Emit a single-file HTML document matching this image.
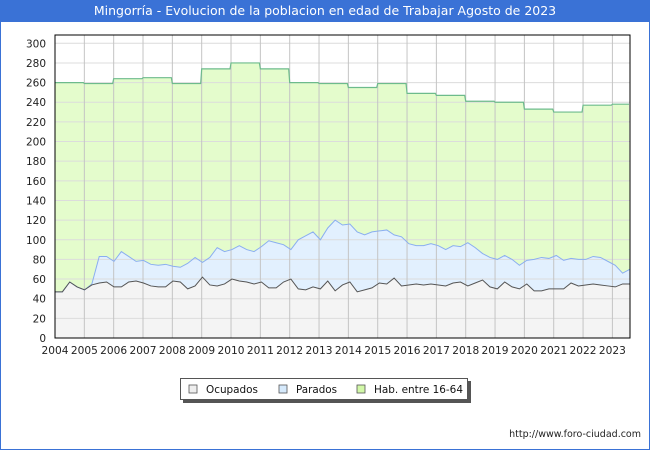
<!DOCTYPE html>
<html><head><meta charset="utf-8"><style>
body{margin:0;width:650px;height:450px;overflow:hidden;background:#fff;font-family:"DejaVu Sans","Liberation Sans",sans-serif}
#frame{position:absolute;left:0;top:0;width:648px;height:448px;border:1px solid #3a72d6}
#title{position:absolute;left:0;top:0;width:650px;height:22px;background:#3a72d6;color:#fff;font-size:12.5px;text-align:center;line-height:22px}
svg{position:absolute;left:0;top:0}
</style></head><body>
<div id="frame"></div>
<div id="title">Mingorría - Evolucion de la poblacion en edad de Trabajar Agosto de 2023</div>
<svg id="c" width="650" height="450"></svg>
<script>
const habYears=[2004,2005,2006,2007,2008,2009,2010,2011,2012,2013,2014,2015,2016,2017,2018,2019,2020,2021,2022,2023];
const habValues=[260,259,264,265,259,274,280,274,260,259,255,259,249,247,241,240,233,230,237,238];
const ocupados=[47,47,57,52,49,54,56,57,52,52,57,58,56,53,52,52,58,57,50,53,62,54,53,55,60,58,57,55,57,51,51,57,60,50,49,52,50,58,48,54,57,47,49,51,56,55,61,53,54,55,54,55,54,53,56,57,53,56,59,52,50,57,52,50,55,48,48,50,50,50,56,53,54,55,54,53,52,55,55];
const paradosTop=[47,47,57,52,49,55,83,83,78,88,83,78,79,75,74,75,73,72,76,82,77,82,92,88,90,94,90,88,93,99,97,95,90,100,104,108,100,112,120,115,116,108,105,108,109,110,105,103,96,94,94,96,94,90,94,93,97,92,86,82,80,84,80,74,79,80,82,81,84,79,81,80,80,83,82,78,74,66,70];
const yTicks=[0,20,40,60,80,100,120,140,160,180,200,220,240,260,280,300];
const xTicks=[2004,2005,2006,2007,2008,2009,2010,2011,2012,2013,2014,2015,2016,2017,2018,2019,2020,2021,2022,2023];

const L=55,R=630,T=35,B=338,t0=2004,t1=2023.6;
const X=t=>L+(t-t0)/(t1-t0)*(R-L);
const Y=v=>B-v*(B-43.3)/300;
const tAt=i=>t0+i*((t1-t0)/(ocupados.length-1));
const svg=document.getElementById('c');const NS='http://www.w3.org/2000/svg';
function mk(tag,attrs,parent){const e=document.createElementNS(NS,tag);for(const k in attrs)e.setAttribute(k,attrs[k]);(parent||svg).appendChild(e);return e;}

let hp=[];habYears.forEach((y,i)=>{const xe=i<habYears.length-1?X(habYears[i+1]):R;hp.push([X(y),Y(habValues[i])],[xe-1,Y(habValues[i])]);});
const habD='M'+hp.map(p=>p.join(',')).join('L');
let e=mk('path',{d:habD+`L${R},${B}L${L},${B}Z`,fill:'#e4fccc'});


const pd=paradosTop.map((v,i)=>X(tAt(i))+','+Y(v)).join('L');
e=mk('path',{d:'M'+pd+`L${R},${B}L${L},${B}Z`,fill:'#e2f0fe'});


const od=ocupados.map((v,i)=>X(tAt(i))+','+Y(v)).join('L');
e=mk('path',{d:'M'+od+`L${R},${B}L${L},${B}Z`,fill:'#f4f4f4'});



yTicks.forEach(v=>{const g=mk('line',{x1:L,x2:R,y1:Y(v),y2:Y(v),stroke:'#dcdcdc','stroke-width':1});


const t=mk('text',{x:L-9,y:Y(v)+4,'text-anchor':'end','font-size':10.5,fill:'#222'});t.textContent=v;

});
xTicks.forEach(y=>{const g=mk('line',{x1:X(y),x2:X(y),y1:T,y2:B,stroke:'#c4c4c4','stroke-width':1});


const t=mk('text',{x:X(y),y:B+16,'text-anchor':'middle','font-size':10.5,fill:'#222',textLength:27,lengthAdjust:'spacingAndGlyphs'});t.textContent=y;

});

e=mk('path',{d:habD,fill:'none',stroke:'#6dbb8c','stroke-width':1.2});


e=mk('path',{d:'M'+pd,fill:'none',stroke:'#8aaef0','stroke-width':1});


e=mk('path',{d:'M'+od,fill:'none',stroke:'#555','stroke-width':1});


e=mk('rect',{x:L,y:T,width:R-L,height:B-T,fill:'none',stroke:'#000','stroke-width':1});



e=mk('rect',{x:183,y:381,width:288,height:22,fill:'#555'});


e=mk('rect',{x:180.5,y:378.5,width:287,height:21,fill:'#fff',stroke:'#555'});


[['Ocupados','#eeeeee',189,52],['Parados','#d6eafc',279,41],['Hab. entre 16-64','#d2f8a8',357,89]].forEach(([n,c,x,w])=>{
const r=mk('rect',{x:x,y:385,width:8,height:8,fill:c,stroke:'#555','stroke-width':0.8});


const t=mk('text',{x:x+17,y:393,'font-size':10.5,fill:'#111',textLength:w,lengthAdjust:'spacingAndGlyphs'});t.textContent=n;

});
e=mk('text',{x:641,y:437,'text-anchor':'end','font-size':9.5,fill:'#222'});e.textContent='http://www.foro-ciudad.com';


</script>
</body></html>
